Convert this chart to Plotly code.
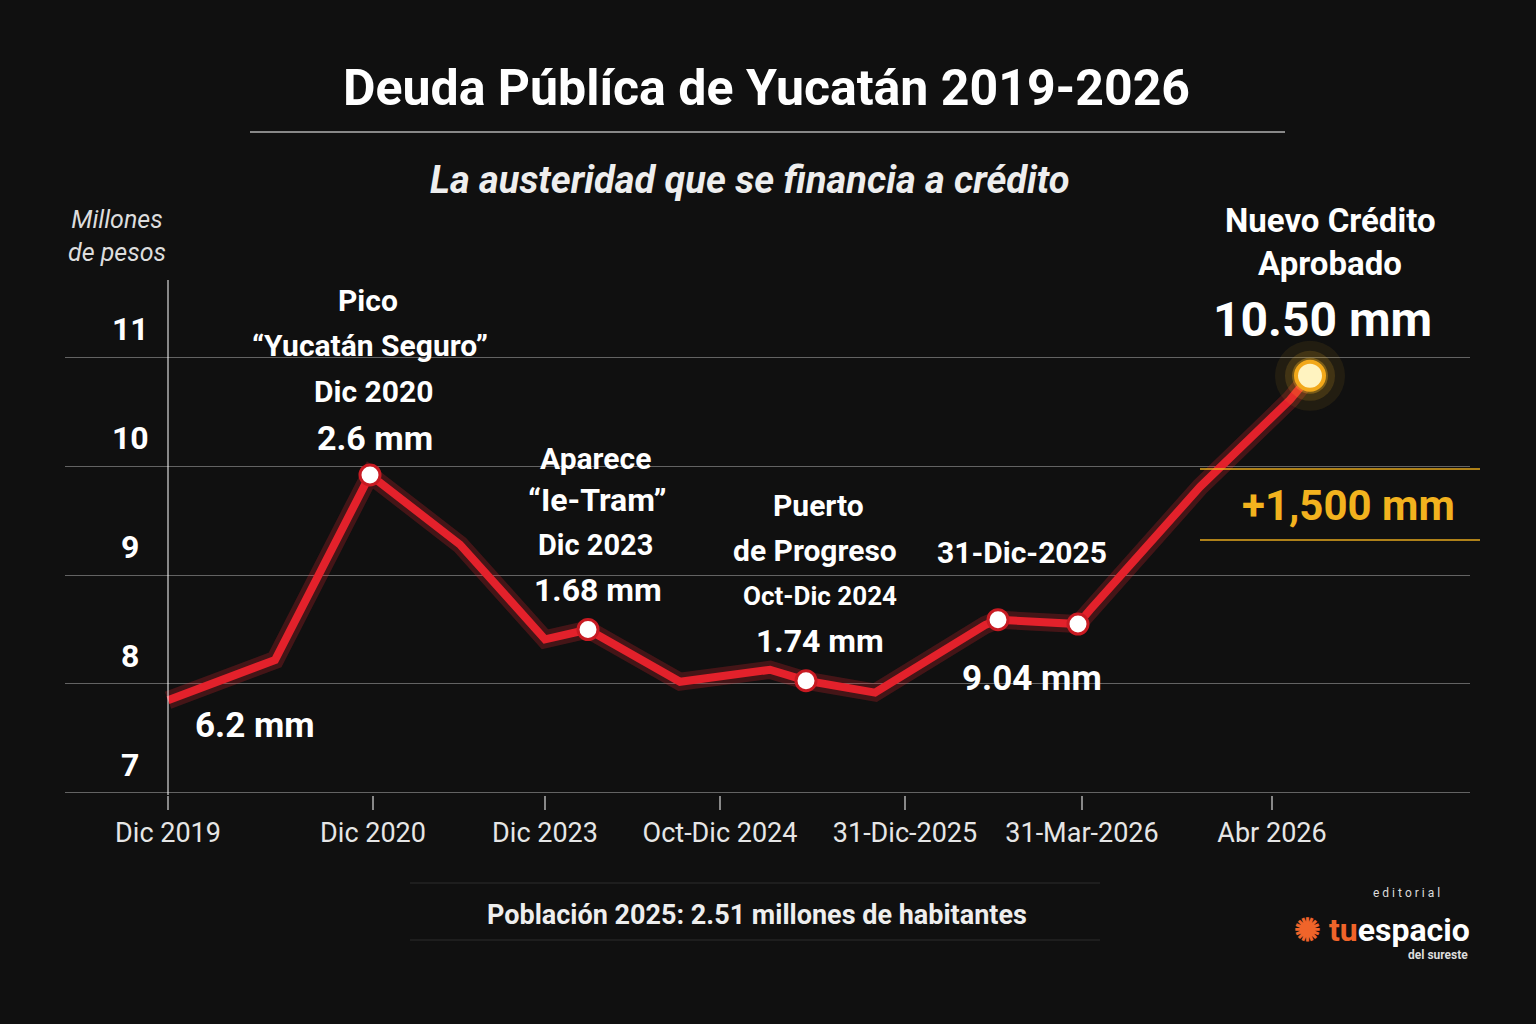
import plotly.graph_objects as go

# data
x_vals = [0.0, 1.07, 2.02, 2.92, 3.77, 4.2, 5.12, 6.02, 6.38, 7.07, 8.17, 8.3, 9.1, 9.22, 10.32, 11.22, 11.42]
y_vals = [7.85, 8.22, 9.92, 9.28, 8.41, 8.5, 8.02, 8.13, 8.03, 7.92, 8.54, 8.59, 8.55, 8.68, 9.81, 10.61, 10.83]
marker_idx = [2, 5, 8, 11, 12]
tick_x = [0.0, 2.05, 3.77, 5.52, 7.37, 9.14, 11.04]
tick_text = ["Dic 2019", "Dic 2020", "Dic 2023", "Oct-Dic 2024", "31-Dic-2025", "31-Mar-2026", "Abr 2026"]
y_ticks = [7, 8, 9, 10, 11]

W, H = 1536, 1024
L, R, T, B = 65, 1470, 280, 795
def px(x): return (x - L) / (R - L)
def py(y): return (B - y) / (B - T)

FONT = "Roboto"
fig = go.Figure()
fig.add_trace(go.Scatter(x=x_vals, y=y_vals, mode="lines",
                         line=dict(color="rgba(255,40,50,0.22)", width=18), hoverinfo="skip"))
fig.add_trace(go.Scatter(x=x_vals, y=y_vals, mode="lines",
                         line=dict(color="#e3212b", width=8)))
fig.add_trace(go.Scatter(x=[x_vals[i] for i in marker_idx], y=[y_vals[i] for i in marker_idx],
                         mode="markers", marker=dict(size=20, color="white", line=dict(color="#c81a22", width=3))))
for s, a in [(70, 0.08), (50, 0.15), (36, 0.3)]:
    fig.add_trace(go.Scatter(x=[x_vals[-1]], y=[y_vals[-1]], mode="markers",
                             marker=dict(size=s, color=f"rgba(255,190,40,{a})")))
fig.add_trace(go.Scatter(x=[x_vals[-1]], y=[y_vals[-1]], mode="markers",
                         marker=dict(size=28, color="#fff3c0", line=dict(color="#f2a81a", width=4))))

ann = []
def txt(x, y, t, size, color="white", bold=True, italic=False, anchor="center"):
    if bold: t = f"<b>{t}</b>"
    if italic: t = f"<i>{t}</i>"
    ann.append(dict(x=px(x), y=py(y), xref="paper", yref="paper", text=t, showarrow=False,
                    font=dict(size=size, color=color, family=FONT), xanchor=anchor, yanchor="middle"))

txt(766, 88, "Deuda Públíca de Yucatán 2019-2026", 50)
txt(750, 180, "La austeridad que se financia a crédito", 38, color="#eeeeee", italic=True)
txt(117, 236, "Millones<br>de pesos", 25, color="#dddddd", bold=False, italic=True)
for v in y_ticks:
    txt(130, 793 - (v - 7) * 109 - 28, str(v), 32)
txt(368, 300, "Pico", 30); txt(370, 345, "“Yucatán Seguro”", 30); txt(373, 391, "Dic 2020", 30)
txt(375, 438, "2.6 mm", 34)
txt(595, 458, "Aparece", 30); txt(597, 500, "“Ie-Tram”", 32); txt(595, 545, "Dic 2023", 29)
txt(598, 590, "1.68 mm", 32)
txt(818, 505, "Puerto", 30); txt(815, 550, "de Progreso", 30); txt(820, 596, "Oct-Dic 2024", 26)
txt(820, 641, "1.74 mm", 32)
txt(1022, 552, "31-Dic-2025", 30)
txt(1032, 678, "9.04 mm", 35)
txt(255, 725, "6.2 mm", 35)
txt(1330, 221, "Nuevo Crédito", 33); txt(1330, 264, "Aprobado", 33)
txt(1322, 319, "10.50 mm", 48)
txt(1348, 505, "+1,500 mm", 42, color="#f2b21e")
txt(757, 915, "Población 2025: 2.51 millones de habitantes", 27, color="#eeeeee")
txt(1442, 893, "e d i t o r i a l", 12, color="#dddddd", bold=False, anchor="right")
ann.append(dict(x=px(1472), y=py(930), xref="paper", yref="paper", showarrow=False, xanchor="right",
                yanchor="middle", text="<b><span style='color:#f0642a'>✺ tu</span>espacio</b>",
                font=dict(size=32, color="white", family=FONT)))
txt(1470, 955, "del sureste", 12, color="#dddddd", anchor="right")

shapes = [
    dict(type="line", xref="paper", yref="paper", x0=px(250), x1=px(1285), y0=py(132), y1=py(132),
         line=dict(color="rgba(255,255,255,0.5)", width=2)),
    dict(type="line", xref="paper", yref="paper", x0=px(1200), x1=px(1480), y0=py(469), y1=py(469),
         line=dict(color="rgba(242,178,30,0.7)", width=2)),
    dict(type="line", xref="paper", yref="paper", x0=px(1200), x1=px(1480), y0=py(540), y1=py(540),
         line=dict(color="rgba(242,178,30,0.7)", width=2)),
    dict(type="line", xref="paper", yref="paper", x0=px(410), x1=px(1100), y0=py(883), y1=py(883),
         line=dict(color="rgba(255,255,255,0.12)", width=1)),
    dict(type="line", xref="paper", yref="paper", x0=px(410), x1=px(1100), y0=py(940), y1=py(940),
         line=dict(color="rgba(255,255,255,0.12)", width=1)),
    dict(type="line", xref="x", yref="paper", x0=0, x1=0, y0=0, y1=1,
         line=dict(color="rgba(255,255,255,0.5)", width=2)),
]

fig.update_layout(
    width=W, height=H, showlegend=False,
    paper_bgcolor="#101010", plot_bgcolor="rgba(0,0,0,0)",
    margin=dict(l=L, r=W - R, t=T, b=H - B),
    annotations=ann, shapes=shapes,
    xaxis=dict(range=[-1.03, 13.02], tickvals=tick_x, ticktext=tick_text, showgrid=False, zeroline=False,
               ticks="outside", ticklen=14, tickcolor="rgba(255,255,255,0.5)", tickwidth=2,
               tickfont=dict(size=27, color="#e6e6e6", family=FONT), showline=False),
    yaxis=dict(range=[6.98, 11.71], tickvals=y_ticks, showticklabels=False, showgrid=True,
               gridcolor="rgba(255,255,255,0.35)", gridwidth=1, zeroline=False),
)
fig.write_html("out.html", config={"displayModeBar": False},
               post_script="document.body.style.margin='0';document.body.style.background='#101010';")
